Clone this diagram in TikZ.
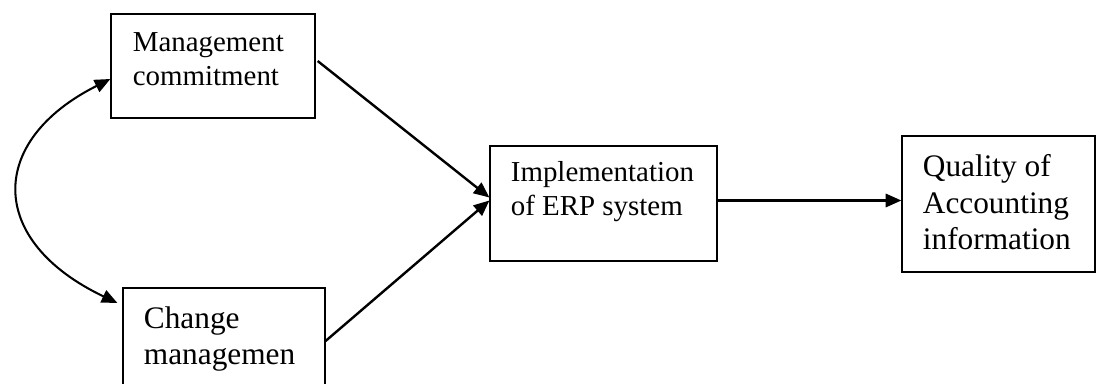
\documentclass[tikz,border=0pt]{standalone}
\usepackage{fontspec}
\setmainfont{Liberation Serif}
\usetikzlibrary{arrows.meta}

\begin{document}
\begin{tikzpicture}[x=0.415pt,y=-0.415pt,>={Triangle[length=6.5pt,width=5.5pt]}]
    \tikzset{box/.style={draw,line width=0.5pt,inner sep=0pt},
        boxtext/.style={anchor=north west,inner sep=0pt,align=left},
        small/.style={font=\fontsize{12}{13.8}\selectfont},
        big/.style={font=\fontsize{13}{15.1}\selectfont},
        link/.style={line width=1pt,->}}
    \useasboundingbox (0,0) rectangle (1096,384);
    % boxes
    \node[box,minimum width=84.7pt,minimum height=43.2pt] (mc) at (213,66) {};
    \node[box,minimum width=83.8pt,minimum height=44pt] (cm) at (224,341) {};
    \node[box,minimum width=94.2pt,minimum height=47.7pt] (erp) at (603.5,203.5) {};
    \node[box,minimum width=80.1pt,minimum height=56.4pt] (qa) at (998.5,204) {};
    % texts
    \node[boxtext,small] (mctext) at ([shift={(22,19)}]mc.north west) {Management\\commitment};
    \node[boxtext,big] (cmtext) at ([shift={(21,19)}]cm.north west) {Change\\managemen};
    \node[boxtext,small] (erptext) at ([shift={(21,16)}]erp.north west) {Implementation\\of ERP system};
    \node[boxtext,big] (qatext) at ([shift={(21,19)}]qa.north west) {Quality of\\Accounting\\information};
    % links
    \draw[link] ([shift={(2,-5)}]mc.east) -- ([shift={(0,-6)}]erp.west);
    \draw[link] (cm.east) -- ([shift={(0,-3)}]erp.west);
    \draw[link] ([shift={(0,-3)}]erp.east) -- ([shift={(0,-3)}]erp.east -| qa.west);
    \draw[<->,line width=0.85pt] ([shift={(0,13)}]mc.west)
        .. controls (-13,141) and (-13,241) .. ([shift={(-5,-38)}]cm.west);
\end{tikzpicture}
\end{document}
